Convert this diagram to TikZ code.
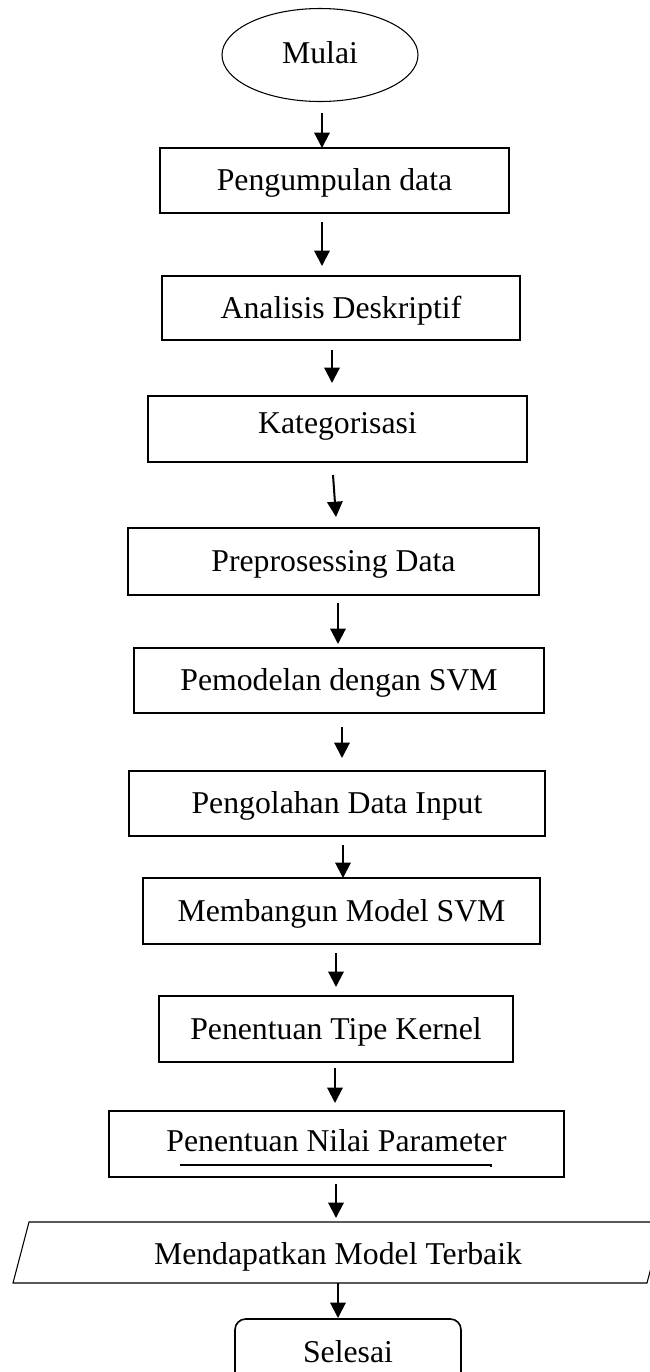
\documentclass[tikz,border=0pt]{standalone}
\usepackage{fontspec}
\setmainfont{Liberation Serif}
\usetikzlibrary{arrows.meta,shapes.geometric}
\tikzset{
  txt/.style={font=\fontsize{23.8}{28}\selectfont, inner sep=0pt, text height=15.7pt, text depth=0pt},
  procbox/.style={txt, draw, line width=1.4pt, rectangle},
  startnode/.style={txt, draw, line width=0.8pt, ellipse},
  endbox/.style={txt, draw, line width=1.2pt, rectangle, rounded corners=8pt},
  arr/.style={line width=1.5pt, -{Triangle[length=11.5pt,width=11.5pt]}},
}
\begin{document}
\begin{tikzpicture}[x=0.75pt,y=-0.75pt]
\useasboundingbox (0,0) rectangle (650,1372);
\clip (0,0) rectangle (650,1372);
% nodes
\node[startnode, minimum width=147pt, minimum height=69.75pt, text depth=3.7pt] (mulai) at (320,55) {Mulai};
\node[procbox, minimum width=261.75pt, minimum height=48.75pt] (b1) at (334.5,180.5) {Pengumpulan data};
\node[procbox, minimum width=268.5pt, minimum height=48pt] (b2) at (341,308) {Analisis Deskriptif};
\node[procbox, minimum width=284.25pt, minimum height=49.5pt, text depth=9.7pt] (b3) at (337.5,429) {Kategorisasi};
\node[procbox, minimum width=308.25pt, minimum height=50.25pt] (b4) at (333.5,561.5) {Preprosessing Data};
\node[procbox, minimum width=307.5pt, minimum height=48.75pt] (b5) at (339,680.5) {Pemodelan dengan SVM};
\node[procbox, minimum width=312pt, minimum height=48.75pt] (b6) at (337,803.5) {Pengolahan Data Input};
\node[procbox, minimum width=297.75pt, minimum height=49.5pt] (b7) at (341.5,911) {Membangun Model SVM};
\node[procbox, minimum width=265.5pt, minimum height=49.5pt] (b8) at (336,1029) {Penentuan Tipe Kernel};
\node[procbox, minimum width=341.25pt, minimum height=49.5pt, text depth=5.2pt] (b9) at (336.5,1144) {Penentuan Nilai Parameter};
\draw[line width=0.8pt] (180,1165) -- (491,1165) -- (491,1167);
% parallelogram
\coordinate (p1) at (13,1283);
\coordinate (p2) at (29,1222);
\coordinate (p3) at (663,1222);
\coordinate (p4) at (647,1283);
\draw[line width=0.8pt] (p1) -- (p2) -- (p3) -- (p4) -- cycle;
\node[txt] (b10) at (338,1254) {Mendapatkan Model Terbaik};
\node[endbox, minimum width=169.5pt, minimum height=49.5pt] (selesai) at (348,1352) {Selesai};
% arrow coordinates
\coordinate (a1s) at (322,113);  \coordinate (a1e) at (322,148);
\coordinate (a2s) at (322,222);  \coordinate (a2e) at (322,266);
\coordinate (a3s) at (332,350);  \coordinate (a3e) at (332,383);
\coordinate (a4s) at (333,475);  \coordinate (a4e) at (336,517);
\coordinate (a5s) at (338,603);  \coordinate (a5e) at (338,644);
\coordinate (a6s) at (342,727);  \coordinate (a6e) at (342,758);
\coordinate (a7s) at (343,845);  \coordinate (a7e) at (343,878);
\coordinate (a8s) at (336,953);  \coordinate (a8e) at (336,987);
\coordinate (a9s) at (335,1068); \coordinate (a9e) at (335,1103);
\coordinate (a10s) at (336,1184); \coordinate (a10e) at (336,1218);
\coordinate (a11s) at (338,1283); \coordinate (a11e) at (338,1318);
\draw[arr] (a1s) -- (a1e);
\draw[arr] (a2s) -- (a2e);
\draw[arr] (a3s) -- (a3e);
\draw[arr] (a4s) -- (a4e);
\draw[arr] (a5s) -- (a5e);
\draw[arr] (a6s) -- (a6e);
\draw[arr] (a7s) -- (a7e);
\draw[arr] (a8s) -- (a8e);
\draw[arr] (a9s) -- (a9e);
\draw[arr] (a10s) -- (a10e);
\draw[arr] (a11s) -- (a11e);
\end{tikzpicture}
\end{document}
